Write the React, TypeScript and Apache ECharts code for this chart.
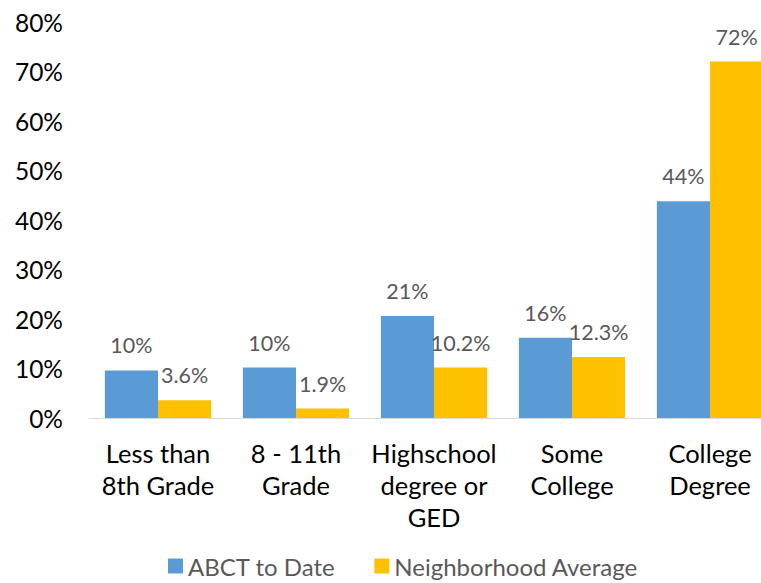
import React, { useEffect, useRef } from "react";
import * as echarts from "echarts";

const categories = [
  "Less than\n8th Grade",
  "8 - 11th\nGrade",
  "Highschool\ndegree or\nGED",
  "Some\nCollege",
  "College\nDegree",
];
const abctValues = [9.6, 10.2, 20.6, 16.2, 43.8];
const neighborhoodValues = [3.6, 1.9, 10.2, 12.3, 72];
const seriesNames = ["ABCT to Date", "Neighborhood Average"];
const yMin = 0;
const yMax = 80;
const yInterval = 10;

const FONT = "Lato";

export default function App() {
  const ref = useRef<HTMLDivElement>(null);
  useEffect(() => {
    if (!ref.current) return;
    const chart = echarts.init(ref.current, undefined, { renderer: "svg" });
    chart.setOption({
      animation: false,
      backgroundColor: "#ffffff",
      textStyle: { fontFamily: FONT },
      grid: { left: 89, right: 21, top: 22, bottom: 165 },
      legend: {
        left: 163,
        top: 549,
        itemWidth: 15,
        itemHeight: 15,
        itemGap: 39,
        icon: "rect",
        textStyle: { fontFamily: FONT, fontSize: 24, color: "#595959" },
        data: seriesNames,
      },
      xAxis: {
        type: "category",
        data: categories,
        axisLine: { lineStyle: { color: "#D9D9D9", width: 1 } },
        axisTick: { show: false },
        axisLabel: {
          interval: 0,
          fontFamily: FONT,
          fontSize: 25.5,
          lineHeight: 32,
          color: "#000000",
          margin: 19,
        },
      },
      yAxis: {
        type: "value",
        min: yMin,
        max: yMax,
        interval: yInterval,
        axisLine: { show: false },
        axisTick: { show: false },
        splitLine: { show: false },
        axisLabel: {
          formatter: "{value}%",
          fontFamily: FONT,
          fontSize: 24.5,
          color: "#000000",
          margin: 26,
        },
      },
      series: [
        {
          name: seriesNames[0],
          type: "bar",
          data: abctValues,
          barGap: "0%",
          barCategoryGap: "23%",
          itemStyle: { color: "#5B9BD5" },
          label: {
            show: true,
            position: "top",
            distance: 14,
            fontFamily: FONT,
            fontSize: 21.5,
            color: "#595959",
            formatter: (p: any) => Math.round(p.value) + "%",
          },
        },
        {
          name: seriesNames[1],
          type: "bar",
          data: neighborhoodValues,
          barGap: "0%",
          barCategoryGap: "23%",
          itemStyle: { color: "#FFC000" },
          label: {
            show: true,
            position: "top",
            distance: 14,
            fontFamily: FONT,
            fontSize: 21.5,
            color: "#595959",
            formatter: (p: any) => p.value + "%",
          },
        },
      ],
    });
    return () => chart.dispose();
  }, []);
  return (
    <div
      style={{ position: "fixed", left: 0, top: 0, width: 761, height: 583, overflow: "hidden", background: "#fff" }}
    >
      <div ref={ref} style={{ position: "absolute", left: 0, top: 0, width: 800, height: 583 }} />
    </div>
  );
}
